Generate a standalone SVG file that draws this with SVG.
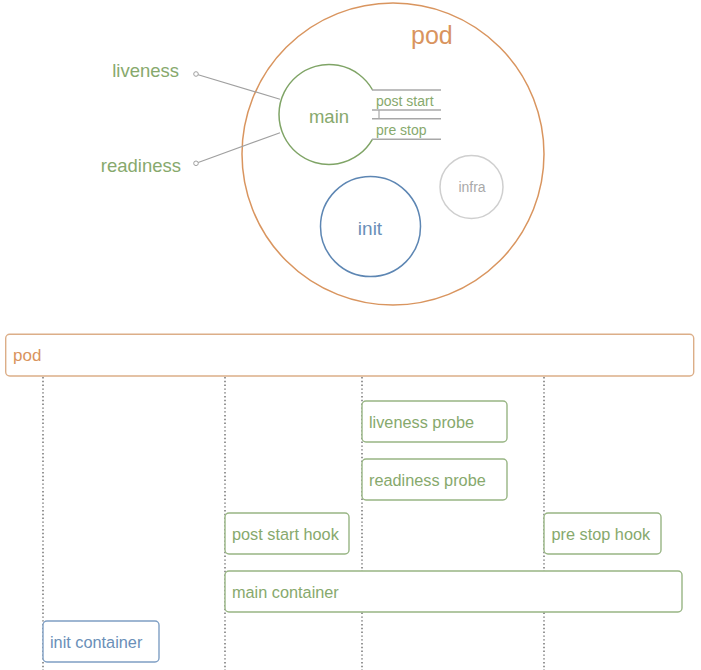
<svg xmlns="http://www.w3.org/2000/svg" width="701" height="670" viewBox="0 0 701 670">
<style>
text{font-family:"Liberation Sans",Arial,sans-serif;}
.g{fill:#87a96d;}
.o{fill:#d9945e;}
.b{fill:#6a8fb8;}
.box{fill:#fff;stroke-width:1.4;}
.gb{stroke:#98b584;}
.bb{stroke:#7f9fc4;}
.ob{stroke:#dcae88;}
.dot{stroke:#8c8c8c;stroke-width:1.8;stroke-dasharray:1.4 2.4;fill:none;}
.lead{stroke:#a0a0a0;stroke-width:1.2;fill:none;}
.hook{stroke:#a8a8a8;stroke-width:1.5;fill:none;}
</style>
<rect width="701" height="670" fill="#fff"/>

<g id="pod-circle">
<circle cx="393" cy="154" r="151" fill="none" stroke="#d9955f" stroke-width="1.5"/>
<text x="411" y="44" font-size="25" class="o">pod</text>
</g>

<g id="main">
<path d="M372.6,90 A50,50 0 1 0 372.4,139.3" fill="none" stroke="#7fa466" stroke-width="1.5"/>
<text x="329" y="123" font-size="18.5" text-anchor="middle" class="g">main</text>
</g>

<g id="hooks">
<line class="hook" x1="372" y1="90" x2="441" y2="90"/>
<line class="hook" x1="372" y1="110" x2="441" y2="110"/>
<line class="hook" x1="372" y1="118.7" x2="441" y2="118.7"/>
<line class="hook" x1="372" y1="139.3" x2="441" y2="139.3"/>
<line stroke="#a8a8a8" stroke-width="1.2" x1="379" y1="110" x2="379" y2="118.7"/>
<text x="376" y="106" font-size="14" class="g">post start</text>
<text x="376" y="135" font-size="14" class="g">pre stop</text>
</g>

<g id="init">
<circle cx="370.5" cy="226.5" r="50" fill="none" stroke="#5d86b3" stroke-width="1.5"/>
<text x="370" y="235" font-size="19" text-anchor="middle" class="b">init</text>
</g>

<g id="infra">
<circle cx="471.5" cy="187" r="31.5" fill="none" stroke="#cfcfcf" stroke-width="1.5"/>
<text x="472" y="192" font-size="14" text-anchor="middle" fill="#a9a9a9">infra</text>
</g>

<g id="liveness">
<text x="179" y="77" font-size="18.5" text-anchor="end" class="g">liveness</text>
<circle cx="196" cy="74" r="2.3" fill="#fff" stroke="#a0a0a0" stroke-width="1"/>
</g>
<g id="readiness">
<text x="181" y="172" font-size="18.5" text-anchor="end" class="g">readiness</text>
<circle cx="196" cy="163.3" r="2.3" fill="#fff" stroke="#a0a0a0" stroke-width="1"/>
</g>

<g id="connectors">
<line class="lead" x1="198.2" y1="74.7" x2="280" y2="99.3"/>
<line class="lead" x1="198.2" y1="162.5" x2="280" y2="132.7"/>
<line class="dot" x1="43" y1="377" x2="43" y2="670"/>
<line class="dot" x1="225" y1="377" x2="225" y2="670"/>
<line class="dot" x1="362" y1="377" x2="362" y2="670"/>
<line class="dot" x1="544" y1="377" x2="544" y2="670"/>
</g>

<g id="pod-bar">
<rect class="box ob" x="5.7" y="334.3" width="688" height="41.7" rx="4"/>
<text x="13" y="361" font-size="17" class="o">pod</text>
</g>

<g id="liveness-probe">
<rect class="box gb" x="362" y="401" width="145" height="41" rx="4"/>
<text x="369" y="427.5" font-size="16.3" class="g">liveness probe</text>
</g>
<g id="readiness-probe">
<rect class="box gb" x="362" y="459" width="145" height="41" rx="4"/>
<text x="369" y="485.5" font-size="16.3" class="g">readiness probe</text>
</g>
<g id="post-start-hook">
<rect class="box gb" x="225" y="513" width="124" height="41" rx="4"/>
<text x="232" y="539.5" font-size="16.3" class="g">post start hook</text>
</g>
<g id="pre-stop-hook">
<rect class="box gb" x="544" y="513" width="117" height="41" rx="4"/>
<text x="551.5" y="539.5" font-size="16.3" class="g">pre stop hook</text>
</g>
<g id="main-container">
<rect class="box gb" x="225" y="571" width="457" height="41" rx="4"/>
<text x="232" y="597.5" font-size="16.3" class="g">main container</text>
</g>
<g id="init-container">
<rect class="box bb" x="43" y="621" width="116" height="41" rx="4"/>
<text x="50" y="647.5" font-size="16.3" class="b">init container</text>
</g>
</svg>
